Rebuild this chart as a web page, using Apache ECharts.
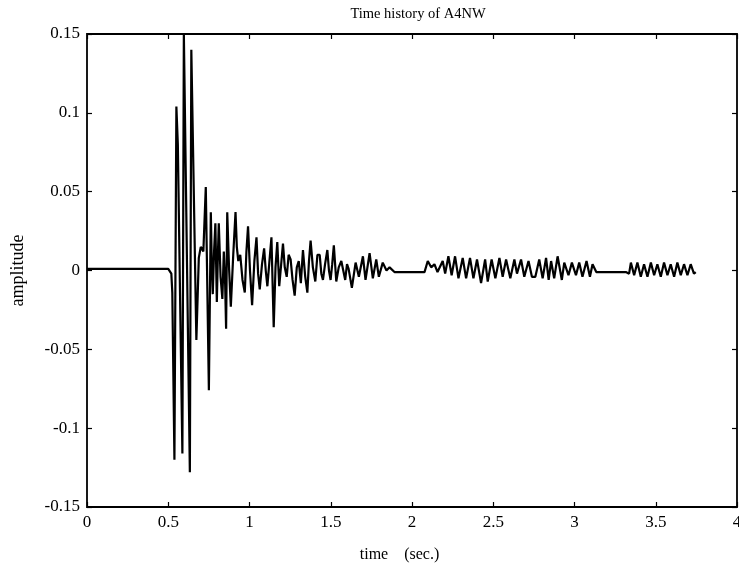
<!DOCTYPE html>
<html>
<head>
<meta charset="utf-8">
<script src="https://cdn.jsdelivr.net/npm/echarts@6/dist/echarts.min.js"></script>
<style>
    html, body { margin: 0; padding: 0; background: #fff; }
    #grafico { width: 739px; height: 575px; }
</style>
</head>
<body>
<div id="grafico"></div>
<script>
// time (sec.) of each point of the trace
const times = [
    0, 0.500, 0.510, 0.519, 0.525, 0.538, 0.550, 0.559, 0.587, 0.596,
    0.633, 0.642, 0.673, 0.688, 0.700, 0.716, 0.731, 0.750, 0.762, 0.768,
    0.774, 0.782, 0.790, 0.799, 0.805, 0.811, 0.822, 0.833, 0.842, 0.850,
    0.856, 0.863, 0.874, 0.885, 0.900, 0.914, 0.922, 0.931, 0.943, 0.957,
    0.971, 0.981, 0.991, 1.003, 1.016, 1.030, 1.043, 1.053, 1.063, 1.077,
    1.090, 1.100, 1.110, 1.122, 1.135, 1.149, 1.160, 1.171, 1.183, 1.195,
    1.206, 1.217, 1.229, 1.241, 1.253, 1.265, 1.278, 1.291, 1.303, 1.316,
    1.329, 1.343, 1.356, 1.366, 1.376, 1.390, 1.405, 1.418, 1.432, 1.442,
    1.452, 1.465, 1.479, 1.489, 1.499, 1.509, 1.519, 1.534, 1.549, 1.565,
    1.577, 1.589, 1.600, 1.610, 1.630, 1.653, 1.673, 1.698, 1.714, 1.739,
    1.759, 1.780, 1.796, 1.820, 1.843, 1.862, 1.892, 2.077, 2.097, 2.118,
    2.138, 2.157, 2.189, 2.204, 2.224, 2.244, 2.265, 2.286, 2.312, 2.333,
    2.357, 2.378, 2.400, 2.425, 2.450, 2.466, 2.490, 2.513, 2.538, 2.558,
    2.579, 2.605, 2.630, 2.646, 2.671, 2.691, 2.717, 2.738, 2.759, 2.783,
    2.804, 2.825, 2.841, 2.856, 2.875, 2.896, 2.922, 2.937, 2.963, 2.984,
    3.009, 3.029, 3.049, 3.074, 3.095, 3.111, 3.134, 3.316, 3.336, 3.347,
    3.367, 3.387, 3.408, 3.428, 3.449, 3.470, 3.490, 3.510, 3.531, 3.551,
    3.572, 3.592, 3.613, 3.633, 3.654, 3.674, 3.695, 3.715, 3.735, 3.746
]
// amplitude
const amps = [
    0.001, 0.001, 0.001, -0.002, -0.014, -0.120, 0.104, 0.080, -0.116, 0.150,
    -0.128, 0.140, -0.044, 0.008, 0.015, 0.012, 0.053, -0.076, 0.037, 0.004,
    -0.015, 0.012, 0.030, -0.020, 0.008, 0.030, -0.004, -0.018, 0.012, -0.008,
    -0.037, 0.037, 0.002, -0.023, 0.010, 0.037, 0.015, 0.006, 0.010, -0.006,
    -0.014, 0.012, 0.028, 0.000, -0.022, 0.006, 0.021, -0.002, -0.012, 0.004,
    0.014, 0.000, -0.010, 0.005, 0.021, -0.036, 0.002, 0.018, -0.010, 0.004,
    0.017, 0.002, -0.004, 0.010, 0.007, -0.006, -0.016, 0.002, 0.006, -0.008,
    0.013, -0.004, -0.014, 0.006, 0.019, 0.002, -0.007, 0.010, 0.010, -0.002,
    -0.006, 0.004, 0.013, 0.000, -0.006, 0.004, 0.016, -0.007, 0.002, 0.006,
    0.000, -0.006, 0.004, 0.001, -0.011, 0.005, -0.004, 0.009, -0.006, 0.011,
    -0.005, 0.007, -0.004, 0.005, 0.000, 0.002, -0.001, -0.001, 0.006, 0.002,
    0.004, -0.001, 0.006, -0.002, 0.009, -0.003, 0.009, -0.005, 0.008, -0.005,
    0.008, -0.005, 0.007, -0.008, 0.007, -0.007, 0.007, -0.005, 0.008, -0.004,
    0.007, -0.005, 0.007, -0.002, 0.007, -0.004, 0.006, -0.004, -0.004, 0.007,
    -0.005, 0.008, -0.006, 0.006, -0.005, 0.009, -0.006, 0.005, -0.003, 0.005,
    -0.003, 0.005, -0.004, 0.006, -0.004, 0.004, -0.001, -0.001, -0.002, 0.005,
    -0.003, 0.005, -0.004, 0.004, -0.004, 0.005, -0.003, 0.004, -0.004, 0.005,
    -0.003, 0.004, -0.004, 0.005, -0.003, 0.004, -0.003, 0.004, -0.002, -0.001
]
const xTicks = ['0', '0.5', '1', '1.5', '2', '2.5', '3', '3.5', '4']
const yTicks = ['-0.15', '-0.1', '-0.05', '0', '0.05', '0.1', '0.15']

const fonte = '"Liberation Serif", "DejaVu Serif", serif'
const pontos = times.map((t, i) => [t, amps[i]])

const dom = document.getElementById('grafico')
const myChart = echarts.init(dom, null, { renderer: 'canvas' })

const eixoX = (mostra) => ({
    type: 'value',
    min: 0,
    max: 4,
    interval: 0.5,
    position: mostra ? 'bottom' : 'top',
    name: mostra ? 'time    (sec.)' : '',
    nameLocation: 'middle',
    nameGap: 40,
    nameTextStyle: { color: '#000', fontFamily: fonte, fontSize: 16, padding: [0, 25, 0, 0] },
    axisLine: { show: false, onZero: false },
    axisTick: { show: true, inside: true, length: 5, lineStyle: { color: '#000', width: 1.2 } },
    axisLabel: {
        show: mostra,
        margin: 7,
        color: '#000',
        fontFamily: fonte,
        fontSize: 17,
        formatter: (v) => xTicks[Math.round(v / 0.5)]
    },
    splitLine: { show: false }
})

const eixoY = (mostra) => ({
    type: 'value',
    min: -0.15,
    max: 0.15,
    interval: 0.05,
    position: mostra ? 'left' : 'right',
    name: mostra ? 'amplitude' : '',
    nameLocation: 'middle',
    nameGap: 60,
    nameRotate: 90,
    nameTextStyle: { color: '#000', fontFamily: fonte, fontSize: 18 },
    axisLine: { show: false, onZero: false },
    axisTick: { show: true, inside: true, length: 5, lineStyle: { color: '#000', width: 1.2 } },
    axisLabel: {
        show: mostra,
        margin: 7,
        color: '#000',
        fontFamily: fonte,
        fontSize: 17,
        formatter: (v) => yTicks[Math.round((v + 0.15) / 0.05)]
    },
    splitLine: { show: false }
})

const option = {
    animation: false,
    backgroundColor: '#fff',
    title: {
        text: 'Time history of A4NW',
        left: 413,
        textAlign: 'center',
        top: 2,
        textStyle: { color: '#000', fontFamily: fonte, fontSize: 14.5, fontWeight: 'normal' }
    },
    grid: {
        left: 87,
        right: 2,
        top: 34,
        bottom: 68,
        outerBoundsMode: 'none',
        containLabel: false,
        show: true,
        borderColor: '#000',
        borderWidth: 1.8,
        backgroundColor: 'transparent'
    },
    xAxis: [eixoX(true), eixoX(false)],
    yAxis: [eixoY(true), eixoY(false)],
    series: [{
        type: 'line',
        data: pontos,
        showSymbol: false,
        symbol: 'none',
        clip: true,
        lineStyle: { color: '#000', width: 2.2 }
    }]
}

myChart.setOption(option)
</script>
</body>
</html>
